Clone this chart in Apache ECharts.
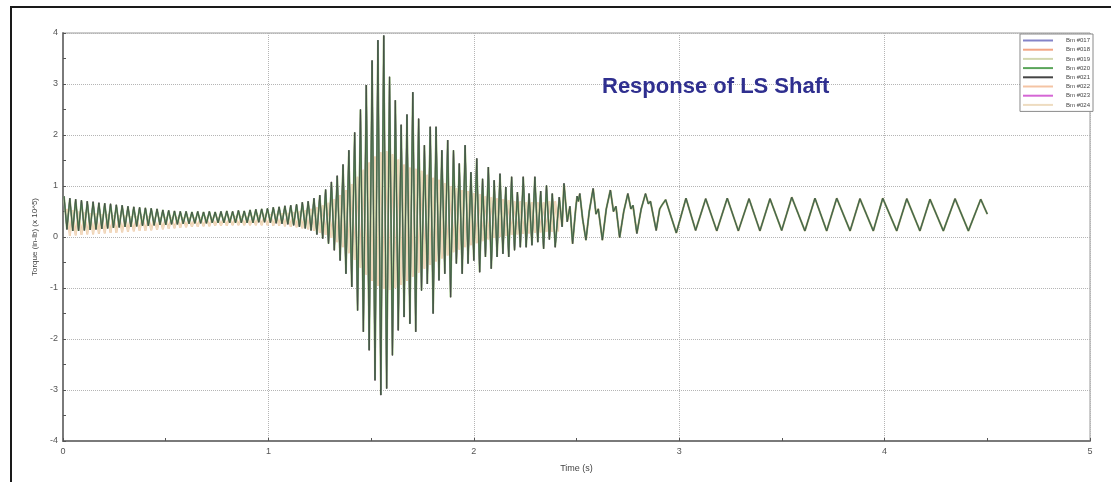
<!DOCTYPE html>
<html>
<head>
<meta charset="utf-8">
<script src="https://cdn.jsdelivr.net/npm/echarts@6/dist/echarts.min.js"></script>
<style>
  html, body { margin: 0; padding: 0; background: #fff; }
  #frame { position: absolute; left: 10px; top: 6px; width: 1101px; height: 476px;
           border-top: 2px solid #1a1a1a; border-left: 2px solid #1a1a1a; box-sizing: border-box; }
  #chart { position: absolute; left: 0; top: 0; width: 1111px; height: 482px; }
</style>
</head>
<body>
<div id="frame"></div>
<div id="chart"></div>
<script>
// sampled torque, LS shaft (x 10^5 in-lb). fast part = one peak + one trough per ~35 Hz cycle
const cycleStart = 0.005
const cycleStep = 0.0283

// dark traces (Bm #020 / #021 and close ones), peak per cycle
const darkPeaks = [
  0.80, 0.76, 0.74, 0.72, 0.70, 0.69, 0.67, 0.66, 0.65, 0.63, 0.62,
  0.60, 0.59, 0.58, 0.57, 0.56, 0.55, 0.53, 0.52, 0.51, 0.50,
  0.50, 0.49, 0.50, 0.49, 0.50, 0.49, 0.50, 0.51, 0.50, 0.52,
  0.51, 0.53, 0.54, 0.55, 0.56, 0.58, 0.59, 0.61, 0.62, 0.64,
  0.68, 0.70, 0.76, 0.82, 0.93, 1.08, 1.20, 1.42, 1.70, 2.05,
  2.50, 2.98, 3.46, 3.86, 3.95, 3.14, 2.68, 2.20, 2.40, 2.84,
  2.32, 1.80, 2.16, 2.16, 1.70, 1.90, 1.70, 1.44, 1.80, 1.27,
  1.54, 1.14, 1.37, 1.11, 1.24, 0.98, 1.18, 0.88, 1.18, 0.85,
  1.18, 0.90, 1.01, 0.85
]
const darkTroughs = [
  0.15, 0.12, 0.12, 0.13, 0.14, 0.15, 0.16, 0.17, 0.18, 0.19, 0.20,
  0.20, 0.21, 0.22, 0.22, 0.23, 0.24, 0.24, 0.25, 0.25, 0.26,
  0.26, 0.27, 0.27, 0.27, 0.28, 0.28, 0.28, 0.28, 0.28, 0.28,
  0.28, 0.28, 0.29, 0.29, 0.28, 0.27, 0.26, 0.25, 0.23, 0.20,
  0.17, 0.13, 0.05, -0.03, -0.13, -0.26, -0.46, -0.72, -0.98, -1.44,
  -1.86, -2.22, -2.81, -3.10, -2.97, -2.32, -1.83, -1.57, -1.70, -1.86,
  -1.05, -0.92, -1.50, -0.85, -0.72, -1.18, -0.52, -0.72, -0.52, -0.46,
  -0.69, -0.39, -0.62, -0.39, -0.33, -0.39, -0.26, -0.20, -0.20, -0.16,
  -0.10, -0.23, -0.05, -0.20
]

// light traces (Bm #022 / #024), half a cycle out of step with the dark ones
const lightPeaks = [
  0.55, 0.52, 0.50, 0.48, 0.47, 0.46, 0.45, 0.44, 0.43, 0.42, 0.42,
  0.41, 0.41, 0.40, 0.40, 0.39, 0.39, 0.39, 0.38, 0.38, 0.38,
  0.38, 0.38, 0.38, 0.38, 0.38, 0.39, 0.39, 0.39, 0.40, 0.40,
  0.41, 0.41, 0.42, 0.43, 0.44, 0.45, 0.46, 0.47, 0.48, 0.50,
  0.52, 0.55, 0.58, 0.62, 0.67, 0.74, 0.82, 0.92, 1.04, 1.18,
  1.32, 1.46, 1.58, 1.66, 1.68, 1.62, 1.52, 1.42, 1.36, 1.34,
  1.30, 1.22, 1.16, 1.12, 1.06, 1.00, 0.96, 0.92, 0.90, 0.86,
  0.84, 0.80, 0.78, 0.76, 0.74, 0.72, 0.70, 0.70, 0.68, 0.68,
  0.68, 0.68, 0.70, 0.70
]
const lightTroughs = [
  0.02, 0.03, 0.04, 0.05, 0.05, 0.06, 0.07, 0.08, 0.08, 0.09, 0.10,
  0.11, 0.12, 0.12, 0.13, 0.14, 0.15, 0.16, 0.17, 0.18, 0.19,
  0.20, 0.20, 0.21, 0.21, 0.22, 0.22, 0.22, 0.23, 0.23, 0.23,
  0.23, 0.23, 0.23, 0.23, 0.22, 0.22, 0.21, 0.20, 0.19, 0.17,
  0.15, 0.12, 0.08, 0.04, -0.02, -0.10, -0.20, -0.32, -0.45, -0.60,
  -0.74, -0.86, -0.96, -1.02, -1.04, -1.00, -0.94, -0.86, -0.78, -0.70,
  -0.62, -0.55, -0.48, -0.42, -0.36, -0.30, -0.25, -0.20, -0.16, -0.12,
  -0.08, -0.05, -0.02, 0.00, 0.02, 0.04, 0.05, 0.06, 0.07, 0.08,
  0.09, 0.10, 0.10, 0.11
]

// settling part, all traces together
const tailTimes = [
  2.416, 2.430, 2.439, 2.455, 2.468, 2.481, 2.496, 2.503, 2.509, 2.516,
  2.530, 2.546, 2.562, 2.581, 2.595, 2.606, 2.626, 2.645, 2.665, 2.680,
  2.692, 2.710, 2.730, 2.750, 2.765, 2.775, 2.794, 2.815, 2.836, 2.850,
  2.860, 2.888, 2.905, 2.915, 2.934, 2.986, 3.033, 3.080, 3.129, 3.183,
  3.234, 3.288, 3.340, 3.393, 3.442, 3.499, 3.548, 3.612, 3.661, 3.718,
  3.767, 3.832, 3.880, 3.945, 3.991, 4.059, 4.108, 4.172, 4.221, 4.286,
  4.343, 4.408, 4.468, 4.500
]
const tailValues = [
  0.78, 0.20, 1.05, 0.30, 0.60, -0.13, 0.55, 0.80, 0.70, 0.85,
  0.35, -0.06, 0.50, 0.95, 0.45, 0.55, -0.06, 0.55, 0.92, 0.50,
  0.60, -0.01, 0.50, 0.85, 0.55, 0.62, 0.07, 0.55, 0.85, 0.65,
  0.70, 0.13, 0.55, 0.62, 0.73, 0.08, 0.76, 0.13, 0.75, 0.12,
  0.76, 0.12, 0.75, 0.12, 0.75, 0.13, 0.78, 0.12, 0.76, 0.12,
  0.76, 0.12, 0.75, 0.12, 0.76, 0.12, 0.75, 0.12, 0.74, 0.12,
  0.75, 0.12, 0.74, 0.45
]

const legendNames = ["Bm #017", "Bm #018", "Bm #019", "Bm #020", "Bm #021", "Bm #022", "Bm #023", "Bm #024"]
const legendColors = ["#8484c8", "#f2a585", "#d3d8b0", "#5aa55a", "#454545", "#f4c4a4", "#d566d5", "#eedcc0"]

function buildTrace(peaks, troughs, lag) {
  const pts = []
  for (let k = 0; k < peaks.length; k++) {
    const t = cycleStart + k * cycleStep + lag
    pts.push([t, peaks[k]])
    pts.push([t + cycleStep / 2, troughs[k]])
  }
  for (let i = 0; i < tailTimes.length; i++) pts.push([tailTimes[i], tailValues[i]])
  return pts
}

const darkData = buildTrace(darkPeaks, darkTroughs, 0)
const lightData = buildTrace(lightPeaks, lightTroughs, cycleStep / 2)

const chart = echarts.init(document.getElementById("chart"))

const color = (name) => legendColors[legendNames.indexOf(name)]
const line = (name, data, width) => ({
  name,
  type: "line",
  data,
  showSymbol: false,
  symbol: "none",
  animation: false,
  color: color(name),
  lineStyle: { width, color: color(name) },
})

chart.setOption({
  backgroundColor: "transparent",
  title: {
    text: "Response of LS Shaft",
    left: 597,
    top: 71,
    textStyle: { color: "#2f2f8f", fontSize: 22, fontWeight: "bold", fontFamily: "Liberation Sans, Arial, sans-serif" },
  },
  legend: {
    data: legendNames,
    orient: "vertical",
    right: 18,
    top: 34,
    padding: [3, 3, 3, 3],
    icon: "rect",
    itemGap: 2.2,
    itemWidth: 30,
    itemHeight: 2,
    backgroundColor: "#fff",
    borderColor: "#8a8a8a",
    borderWidth: 1,
    textStyle: { fontSize: 6, lineHeight: 7, color: "#444", padding: [0, 0, 0, 8] },
  },
  grid: { left: 63, right: 21, top: 33, bottom: 41, show: true, borderColor: "#9a9a9a", borderWidth: 1 },
  xAxis: {
    type: "value",
    min: 0,
    max: 5,
    interval: 1,
    name: "Time (s)",
    nameLocation: "middle",
    nameGap: 23,
    nameTextStyle: { fontSize: 9, color: "#444" },
    axisLine: { onZero: false, lineStyle: { color: "#7a7a7a", width: 2 } },
    axisTick: { show: true, length: 3, inside: true, lineStyle: { color: "#555" } },
    minorTick: { show: true, splitNumber: 2, length: 3, lineStyle: { color: "#555" } },
    axisLabel: { fontSize: 9, color: "#555", margin: 6 },
    splitLine: { show: true, lineStyle: { color: "#b5b5b5", type: "dotted" } },
  },
  yAxis: {
    type: "value",
    min: -4,
    max: 4,
    interval: 1,
    name: "Torque (in-lb) (x 10^5)",
    nameLocation: "middle",
    nameGap: 22,
    nameTextStyle: { fontSize: 8, color: "#444" },
    axisLine: { show: true, onZero: false, lineStyle: { color: "#7a7a7a", width: 2 } },
    axisTick: { show: true, length: 3, inside: true, lineStyle: { color: "#555" } },
    minorTick: { show: true, splitNumber: 2, length: 3, lineStyle: { color: "#555" } },
    axisLabel: { fontSize: 9, color: "#555", margin: 5 },
    splitLine: { show: true, lineStyle: { color: "#b5b5b5", type: "dotted" } },
  },
  series: [
    line("Bm #022", lightData, 2),
    line("Bm #024", lightData, 1.2),
    line("Bm #019", darkData, 2),
    line("Bm #023", darkData, 1),
    line("Bm #018", darkData, 1),
    line("Bm #017", darkData, 1),
    line("Bm #020", darkData, 1.5),
    line("Bm #021", darkData, 0.8),
  ],
})
</script>
</body>
</html>
